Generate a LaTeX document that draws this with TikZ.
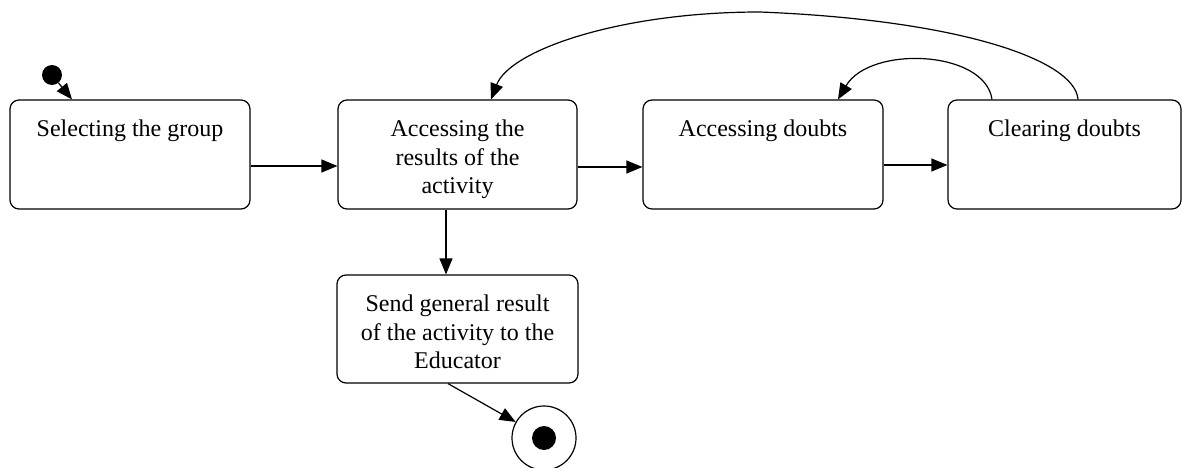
\documentclass[tikz,border=0pt]{standalone}
\usepackage{fontspec}
\setmainfont{Liberation Serif}
\usetikzlibrary{arrows.meta,calc}
\begin{document}
\begin{tikzpicture}[x=1pt,y=-1pt,
  box/.style={draw,line width=1.2pt,rounded corners=9pt,minimum height=109pt,inner sep=0pt},
  txt/.style={align=center,inner sep=0pt,anchor=north,font=\fontsize{24}{28.5}\selectfont},
  arr/.style={line width=1.2pt,-{Triangle[length=16pt,width=13pt]}},
  dot/.style={circle,fill=black,inner sep=0pt,minimum size=#1}]
\useasboundingbox (0,0) rectangle (1183,468);
\fill[white] (0,0) rectangle (1183,468);
% boxes
\node[box,minimum width=240pt] (b1) at (130,154.5) {};
\node[box,minimum width=239pt] (b2) at (457.5,154.5) {};
\node[box,minimum width=240pt] (b3) at (763,154.5) {};
\node[box,minimum width=233pt] (b4) at (1064.5,154.5) {};
\node[box,minimum width=241pt,minimum height=108pt] (b5) at (457.5,329) {};
% texts
\node[txt] (t1) at ($(b1.north)+(0,17)$) {\strut Selecting the group};
\node[txt] (t2) at ($(b2.north)+(0,17)$) {\strut Accessing the\\results of the\\activity};
\node[txt] (t3) at ($(b3.north)+(0,17)$) {\strut Accessing doubts};
\node[txt] (t4) at ($(b4.north)+(0,17)$) {\strut Clearing doubts};
\node[txt] (t5) at ($(b5.north)+(0,17)$) {\strut Send general result\\of the activity to the\\Educator};
% start and end
\node[dot=20pt] (init) at (52,75) {};
\node[draw,circle,line width=1.2pt,minimum size=64pt,inner sep=0pt] (fin) at (544,438) {};
\node[dot=24pt] (findot) at (fin.center) {};
% connectors
\draw[arr] (init) -- (b1.north -| 72,0);
\draw[arr] (b1.east |- 0,166) -- (b2.west |- 0,166);
\draw[arr] (b2.east |- 0,167) -- (b3.west |- 0,167);
\draw[arr] (b3.east |- 0,165) -- (b4.west |- 0,165);
\draw[arr] (b2.south -| 446,0) -- (b5.north -| 446,0);
\draw[arr] (b5.south -| 448,0) -- (fin);
\coordinate (c4a) at (b4.north -| 1078,0);
\coordinate (c4b) at (b4.north -| 992,0);
\coordinate (c2a) at (b2.north -| 491,0);
\coordinate (c3a) at (b3.north -| 838,0);
\draw[arr] (c4a) .. controls (1075,60) and (960,20) .. (760,12) .. controls (620,12) and (510,50) .. (c2a);
\draw[arr] (c4b) .. controls (985,50) and (870,45) .. (c3a);
\end{tikzpicture}
\end{document}
